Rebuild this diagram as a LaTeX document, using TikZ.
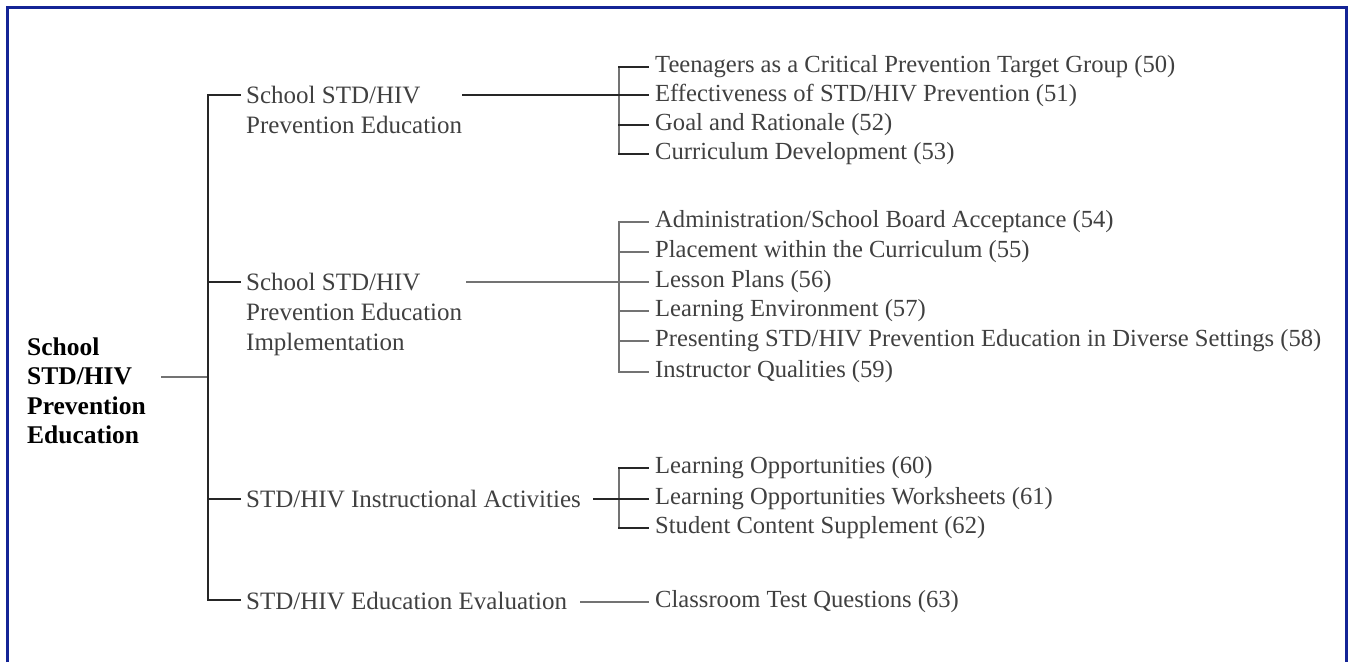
\documentclass[tikz,border=0pt]{standalone}
\usepackage{fontspec}
\setmainfont{Liberation Serif}
\definecolor{frameblue}{RGB}{20,36,150}

\begin{document}
\begin{tikzpicture}[x=1pt, y=-1pt, align=left, line cap=rect,
  dark/.style={draw=black!85, line width=2pt},
  grey/.style={draw=black!55, line width=2.4pt},
  root/.style={anchor=west, inner sep=0pt, font=\bfseries\fontsize{25.5}{29.5}\selectfont},
  topic/.style={anchor=north west, inner sep=0pt, text=black!75, font=\fontsize{25}{30}\selectfont},
  item/.style={anchor=west, inner sep=0pt, text=black!75, font=\fontsize{24.6}{29}\selectfont}]
\useasboundingbox (0,0) rectangle (1349,662);
\draw[frameblue, line width=3pt, line cap=butt] (7,662) -- (7,7) -- (1346,7) -- (1346,662);

\path (27,391) node[root] (r) {School\\STD/HIV\\Prevention\\Education};

\path (246,86) node[topic] (s1) {School STD/HIV\\Prevention Education}
      (246,273) node[topic] (s2) {School STD/HIV\\Prevention Education\\Implementation}
      (246,490) node[topic] (s3) {STD/HIV Instructional Activities}
      (246,592) node[topic] (s4) {STD/HIV Education Evaluation};

\path (655,67) node[item] (a1) {Teenagers as a Critical Prevention Target Group (50)}
      (655,95) node[item] (a2) {Effectiveness of STD/HIV Prevention (51)}
      (655,125) node[item] (a3) {Goal and Rationale (52)}
      (655,154) node[item] (a4) {Curriculum Development (53)};

\path (655,222) node[item] (b1) {Administration/School Board Acceptance (54)}
      (655,252) node[item] (b2) {Placement within the Curriculum (55)}
      (655,282) node[item] (b3) {Lesson Plans (56)}
      (655,311) node[item] (b4) {Learning Environment (57)}
      (655,341) node[item] (b5) {Presenting STD/HIV Prevention Education in Diverse Settings (58)}
      (655,372) node[item] (b6) {Instructor Qualities (59)};

\path (655,468) node[item] (c1) {Learning Opportunities (60)}
      (655,499) node[item] (c2) {Learning Opportunities Worksheets (61)}
      (655,528) node[item] (c3) {Student Content Supplement (62)};

\path (655,602) node[item] (d1) {Classroom Test Questions (63)};

% trunk
\coordinate (rj) at (162,377);
\coordinate (t1) at (208,95);
\coordinate (t2) at (208,282);
\coordinate (t3) at (208,499);
\coordinate (t4) at (208,600);
\draw[grey] (rj) -- (rj -| t1);
\draw[dark, shorten <=6pt, shorten >=6pt] (t1 -| s1.west) -- (t1) -- (t4) -- (t4 -| s4.west);
\draw[dark, shorten >=6pt] (t2) -- (t2 -| s2.west);
\draw[dark, shorten >=6pt] (t3) -- (t3 -| s3.west);

% brackets
\coordinate (j1) at (463,95);
\draw[dark, shorten >=7pt] (j1) -- (j1 -| a2.west);
\draw[grey] ([xshift=-36pt]a1.west) -- ([xshift=-36pt]a4.west);
\foreach \i in {1,...,4}
  \draw[dark] ([xshift=-36pt]a\i.west) -- ([xshift=-7pt]a\i.west);

\coordinate (j2) at (467,282);
\draw[grey, shorten >=7pt] (j2) -- (j2 -| b3.west);
\draw[grey] ([xshift=-36pt]b1.west) -- ([xshift=-36pt]b6.west);
\foreach \i in {1,...,6}
  \draw[grey] ([xshift=-36pt]b\i.west) -- ([xshift=-7pt]b\i.west);

\coordinate (j3) at (594,499);
\draw[dark, shorten >=7pt] (j3) -- (j3 -| c2.west);
\draw[grey] ([xshift=-36pt]c1.west) -- ([xshift=-36pt]c3.west);
\foreach \i in {1,...,3}
  \draw[dark] ([xshift=-36pt]c\i.west) -- ([xshift=-7pt]c\i.west);

\coordinate (j4) at (581,602);
\draw[grey, shorten >=7pt] (j4) -- (j4 -| d1.west);
\end{tikzpicture}
\end{document}
